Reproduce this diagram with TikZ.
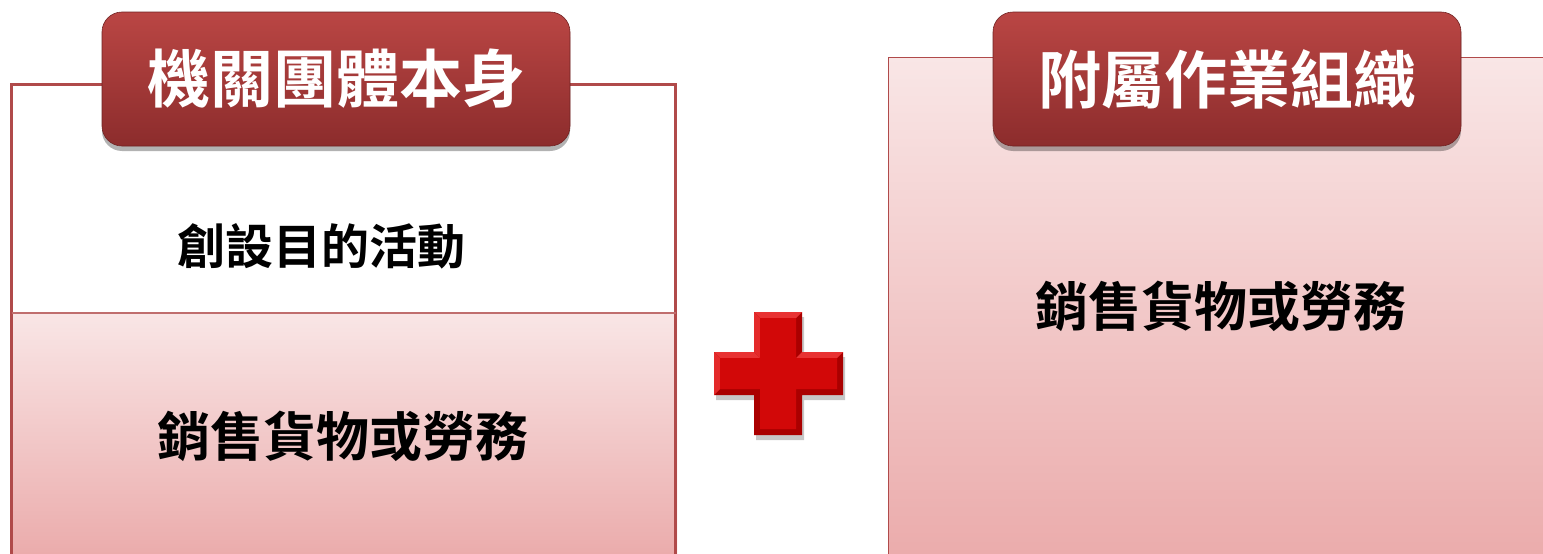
\documentclass[tikz,border=0pt]{standalone}
\usepackage{fontspec}
\newfontfamily\cjk{Noto Sans CJK TC}[BoldFont={Noto Sans CJK TC Bold}]
\usetikzlibrary{shadows,shadings}
\definecolor{frameRed}{RGB}{176,74,74}
\definecolor{paleTop}{RGB}{249,230,230}
\definecolor{paleBot}{RGB}{235,172,172}
\definecolor{tabTop}{RGB}{186,70,68}
\definecolor{tabBot}{RGB}{140,44,44}
\definecolor{crossDark}{RGB}{170,0,0}
\definecolor{crossMid}{RGB}{210,8,8}
\definecolor{crossLight}{RGB}{232,50,50}
\tikzset{
  tabbox/.style={rounded corners=20pt, minimum width=468pt, minimum height=134pt,
    top color=tabTop, bottom color=tabBot, draw=tabBot!80!black, line width=0.6pt,
    drop shadow={shadow xshift=0pt, shadow yshift=-5pt, opacity=0.3, fill=black},
    text=white, font=\cjk\bfseries\fontsize{63}{72}\selectfont, inner sep=0pt},
  bodytext/.style={text=black, font=\cjk\bfseries\fontsize{53}{62}\selectfont, inner sep=0pt},
  smalltext/.style={text=black, font=\cjk\bfseries\fontsize{48}{56}\selectfont, inner sep=0pt}
}
\begin{document}
\begin{tikzpicture}[x=1pt,y=-1pt]
\useasboundingbox (0,0) rectangle (1543,554);
\begin{scope}
\clip (0,0) rectangle (1543,554);
% left box
\fill[white] (10,83) rectangle (677,313);
\shade[top color=paleTop, bottom color=paleBot] (10,313) rectangle (677,554);
\draw[frameRed, line width=3pt] (11.5,600) -- (11.5,84.5) -- (675.5,84.5) -- (675.5,600);
\draw[frameRed!80, line width=2pt] (11.5,313) -- (675.5,313);
% right box
\shade[top color=paleTop, bottom color=paleBot] (888,57) rectangle (1560,554);
\draw[frameRed, line width=1.5pt] (888.5,600) -- (888.5,57.5) -- (1560,57.5);
\end{scope}
% tabs
\node[tabbox] (tabL) at (336,79) {機關團體本身};
\node[tabbox] (tabR) at (1227,79) {附屬作業組織};
% texts
\node[smalltext] (create) at (321,246) {創設目的活動};
\node[bodytext] (saleL) at (343,436) {銷售貨物或勞務};
\node[bodytext] (saleR) at (1221,306) {銷售貨物或勞務};
% cross
\coordinate (plus) at (778,373);
\begin{scope}[shift={(plus)}]
\fill[black, opacity=0.22] (-22,-56) -- (26,-56) -- (26,-16) -- (67,-16) -- (67,27) -- (26,27) -- (26,67) -- (-22,67) -- (-22,27) -- (-62,27) -- (-62,-16) -- (-22,-16) -- cycle;
\fill[crossDark] (-24,-61) -- (24,-61) -- (24,-21) -- (65,-21) -- (65,22) -- (24,22) -- (24,62) -- (-24,62) -- (-24,22) -- (-64,22) -- (-64,-21) -- (-24,-21) -- cycle;
\fill[crossLight] (-24,-61) -- (24,-61) -- (18,-55) -- (-18,-55) -- cycle;
\fill[crossLight] (-64,-21) -- (-24,-21) -- (-18,-15) -- (-58,-15) -- cycle;
\fill[crossLight] (24,-21) -- (65,-21) -- (59,-15) -- (18,-15) -- cycle;
\fill[crossLight!80!crossMid] (-24,-61) -- (-18,-55) -- (-18,-15) -- (-24,-21) -- cycle;
\fill[crossLight!80!crossMid] (-64,-21) -- (-58,-15) -- (-58,16) -- (-64,22) -- cycle;
\fill[crossMid] (-18,-55) -- (18,-55) -- (18,-15) -- (59,-15) -- (59,16) -- (18,16) -- (18,56) -- (-18,56) -- (-18,16) -- (-58,16) -- (-58,-15) -- (-18,-15) -- cycle;
\end{scope}
\end{tikzpicture}
\end{document}
